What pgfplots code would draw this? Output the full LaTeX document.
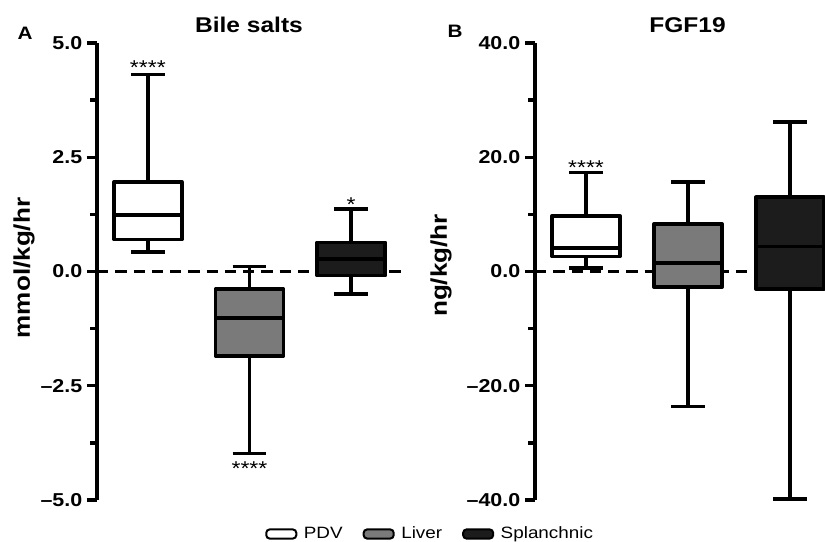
\documentclass[border=0pt]{standalone}
\usepackage{fontspec}
\setmainfont{Liberation Sans}[FakeStretch=1.15]
\usepackage{pgfplots}
\pgfplotsset{compat=1.18}
\usepgfplotslibrary{statistics}

\definecolor{livergray}{HTML}{7A7A7A}
\definecolor{splanblack}{HTML}{1C1C1C}

\pgfplotsset{
  panel/.style={
    scale only axis, height=342.75pt,
    axis x line=none, axis y line*=left,
    xmin=0.5, xtick=\empty,
    axis line style={line width=2.6pt},
    tick style={black, line width=2.6pt},
    tick align=outside,
    major tick length=7.5pt, minor tick length=5pt,
    yticklabel style={font=\fontsize{14}{16}\selectfont\bfseries},
    boxplot/draw direction=y,
    clip=false,
  },
  bx/.style={line width=2.6pt, draw=black, line join=round},
  zero/.style={line width=2.5pt, black, dash pattern=on 8.5pt off 5.2pt, forget plot},
}
\newcommand{\stars}{\fontsize{15}{17}\selectfont}

\begin{document}
\begin{tikzpicture}
\path[use as bounding box] (0,0) rectangle (618.75pt,406.5pt);

% panel A: bile salts
\begin{axis}[panel, at={(72.75pt,31.5pt)}, anchor=south west,
  width=228.75pt, xmax=3.5, ymin=-5, ymax=5,
  ytick={-5,-2.5,0,2.5,5}, yticklabels={–5.0,–2.5,0.0,2.5,5.0},
  minor ytick={-3.75,-1.25,1.25,3.75},
  legend style={at={(1.0934,-0.0744)}, anchor=center, draw=none, fill=none,
    font=\fontsize{12.3}{14}\selectfont, inner sep=0pt,
    /tikz/every even column/.append style={column sep=13pt}},
  legend columns=3]
\addplot[zero] coordinates {(0.5,0) (3.5,0)};
\addplot[bx, fill=white, forget plot, boxplot prepared={draw position=1,
  lower whisker=0.43, lower quartile=0.70, median=1.24,
  upper quartile=1.96, upper whisker=4.31,
  box extend=0.67, whisker extend=0.33}] coordinates {};
\addplot[bx, fill=livergray, forget plot, boxplot prepared={draw position=2,
  lower whisker=-3.98, lower quartile=-1.85, median=-1.02,
  upper quartile=-0.38, upper whisker=0.11,
  box extend=0.67, whisker extend=0.33}] coordinates {};
\addplot[bx, fill=splanblack, forget plot, boxplot prepared={draw position=3,
  lower whisker=-0.49, lower quartile=-0.09, median=0.27,
  upper quartile=0.64, upper whisker=1.37,
  box extend=0.67, whisker extend=0.33}] coordinates {};
\node[anchor=base, font=\stars, yshift=-0.3pt] at (axis cs:1,4.31) {****};
\node[anchor=base, font=\stars, yshift=-16.3pt] at (axis cs:2,-3.98) {****};
\node[anchor=base, font=\stars, yshift=-1.6pt] at (axis cs:3,1.37) {*};
\addlegendimage{legend image code/.code={\filldraw[fill=white, draw=black, line width=1.5pt, rounded corners=2.5pt] (0pt,-3.4pt) rectangle (22.5pt,3.4pt); \path (26pt,0pt);}}
\addlegendentry{PDV}
\addlegendimage{legend image code/.code={\filldraw[fill=livergray, draw=black, line width=1.5pt, rounded corners=2.5pt] (0pt,-3.4pt) rectangle (22.5pt,3.4pt); \path (26pt,0pt);}}
\addlegendentry{Liver}
\addlegendimage{legend image code/.code={\filldraw[fill=splanblack, draw=black, line width=1.5pt, rounded corners=2.5pt] (0pt,-3.4pt) rectangle (22.5pt,3.4pt); \path (26pt,0pt);}}
\addlegendentry{Splanchnic}
\end{axis}

% panel B: FGF19
\begin{axis}[panel, at={(401.25pt,31.5pt)}, anchor=south west,
  width=217.3pt, xmax=3.34, ymin=-40, ymax=40,
  ytick={-40,-20,0,20,40}, yticklabels={–40.0,–20.0,0.0,20.0,40.0},
  minor ytick={-30,-10,10,30}]
\addplot[zero] coordinates {(0.5,0) (3.34,0)};
\addplot[bx, fill=white, forget plot, boxplot prepared={draw position=1,
  lower whisker=0.59, lower quartile=2.62, median=4.09,
  upper quartile=9.74, upper whisker=17.3,
  box extend=0.67, whisker extend=0.33}] coordinates {};
\addplot[bx, fill=livergray, forget plot, boxplot prepared={draw position=2,
  lower whisker=-23.6, lower quartile=-2.73, median=1.47,
  upper quartile=8.29, upper whisker=15.7,
  box extend=0.67, whisker extend=0.33}] coordinates {};
\addplot[bx, fill=splanblack, forget plot, boxplot prepared={draw position=3,
  lower whisker=-39.8, lower quartile=-3.08, median=4.37,
  upper quartile=13.0, upper whisker=26.2,
  box extend=0.67, whisker extend=0.33}] coordinates {};
\node[anchor=base, font=\stars, yshift=-1.2pt] at (axis cs:1,17.3) {****};
\end{axis}

% titles, panel letters and axis labels
\node[font=\fontsize{16}{18}\selectfont\bfseries] at (186.75pt,387.75pt) {Bile salts};
\node[font=\fontsize{16}{18}\selectfont\bfseries] at (515.6pt,387.4pt) {FGF19};
\node[font=\fontsize{13.5}{15}\selectfont\bfseries] at (18.75pt,381.75pt) {A};
\node[font=\fontsize{13.5}{15}\selectfont\bfseries] at (341.25pt,383.25pt) {B};
\node[font=\fontsize{17}{19}\selectfont\bfseries, rotate=90] at (18pt,205.5pt) {mmol/kg/hr};
\node[font=\fontsize{17}{19}\selectfont\bfseries, rotate=90] at (330.75pt,207.4pt) {ng/kg/hr};
\end{tikzpicture}
\end{document}
